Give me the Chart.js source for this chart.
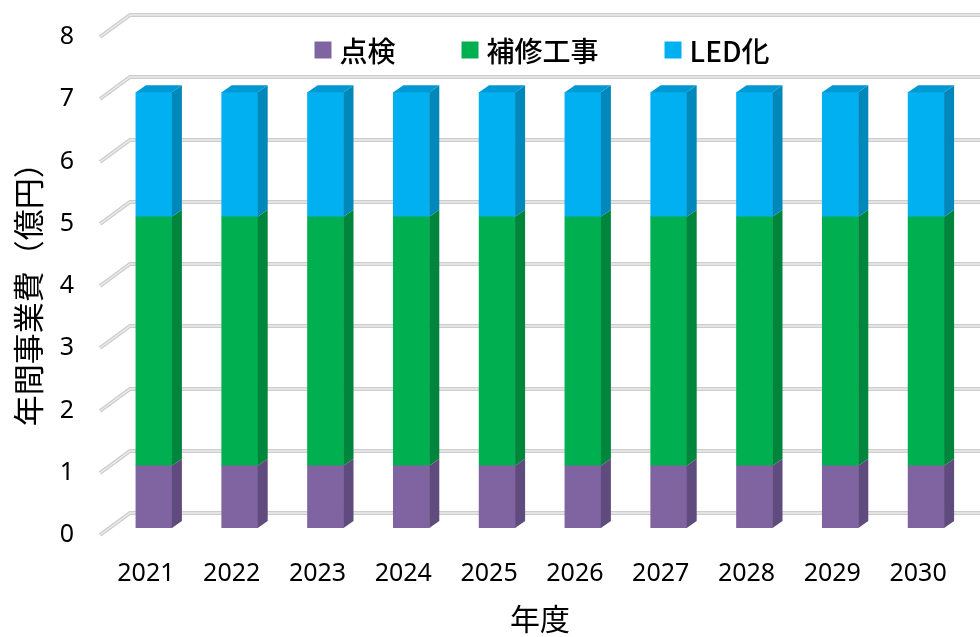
<!DOCTYPE html>
<html>
<head>
<meta charset="utf-8">
<script src="https://cdn.jsdelivr.net/npm/chart.js@4.4.1/dist/chart.umd.min.js"></script>
<style>
    html, body { margin: 0; padding: 0; background: #fff; }
    canvas { display: block; }
</style>
</head>
<body>
<canvas id="chart" width="980" height="637"></canvas>
<script>
    const years = ['2021', '2022', '2023', '2024', '2025', '2026', '2027', '2028', '2029', '2030'];
    const inspection = [1, 1, 1, 1, 1, 1, 1, 1, 1, 1];   // 点検
    const repairWork = [4, 4, 4, 4, 4, 4, 4, 4, 4, 4];   // 補修工事
    const ledWork = [2, 2, 2, 2, 2, 2, 2, 2, 2, 2];      // LED化
    const seriesNames = ['点検', '補修工事', 'LED化'];

    const jpFont = "'Noto Sans CJK JP', 'Noto Sans', sans-serif";
    const numFont = "'Noto Sans', 'Noto Sans CJK JP', sans-serif";

    // depth of the fake 3D boxes
    const DX = 10, DY = -7;

    const wallPlugin = {
        id: 'wall',
        beforeDatasetsDraw(chart) {
            const { ctx, chartArea, scales: { y } } = chart;
            ctx.save();
            for (let v = 0; v <= 8; v++) {
                const yb = Math.round(y.getPixelForValue(v)) - 15;
                const path = () => {
                    ctx.beginPath();
                    ctx.moveTo(chartArea.left - 11, yb + 22);
                    ctx.lineTo(chartArea.left + 19, yb);
                    ctx.lineTo(chart.width, yb);
                };
                ctx.lineWidth = 4;
                ctx.strokeStyle = '#cdcdcd';
                path();
                ctx.stroke();
                ctx.lineWidth = 1.5;
                ctx.strokeStyle = '#ebebeb';
                path();
                ctx.stroke();
            }
            ctx.restore();
        },
        afterDatasetsDraw(chart) {
            const { ctx } = chart;
            const last = chart.data.datasets.length - 1;
            ctx.save();
            chart.data.datasets.forEach((ds, i) => {
                chart.getDatasetMeta(i).data.forEach((bar) => {
                    const l = bar.x - bar.width / 2,
                          r = bar.x + bar.width / 2,
                          t = Math.min(bar.y, bar.base),
                          b = Math.max(bar.y, bar.base);
                    ctx.fillStyle = ds.sideColor;
                    ctx.beginPath();
                    ctx.moveTo(r, t);
                    ctx.lineTo(r + DX, t + DY);
                    ctx.lineTo(r + DX, b + DY);
                    ctx.lineTo(r, b);
                    ctx.closePath();
                    ctx.fill();
                    if (i === last) {
                        ctx.fillStyle = ds.topColor;
                        ctx.beginPath();
                        ctx.moveTo(l, t);
                        ctx.lineTo(r, t);
                        ctx.lineTo(r + DX, t + DY);
                        ctx.lineTo(l + DX, t + DY);
                        ctx.closePath();
                        ctx.fill();
                    }
                });
            });
            ctx.restore();
        },
    };

    const legendPlugin = {
        id: 'innerLegend',
        afterDraw(chart) {
            const { ctx } = chart;
            const box = 17, gap = 8, spacing = 66, cx = 542, cy = 50;
            ctx.save();
            ctx.font = `500 28px ${jpFont}`;
            const widths = chart.data.datasets.map((ds) => ctx.measureText(ds.label).width);
            const total = widths.reduce((s, w) => s + box + gap + w, 0) + spacing * (widths.length - 1);
            let x = cx - total / 2;
            ctx.textBaseline = 'middle';
            chart.data.datasets.forEach((ds, i) => {
                ctx.fillStyle = ds.backgroundColor;
                ctx.fillRect(x, cy - box / 2, box, box);
                ctx.fillStyle = '#000';
                ctx.fillText(ds.label, x + box + gap, cy + 1);
                x += box + gap + widths[i] + spacing;
            });
            ctx.restore();
        },
    };

    new Chart(document.getElementById('chart'), {
        type: 'bar',
        data: {
            labels: years,
            datasets: [
                { label: seriesNames[0], data: inspection, backgroundColor: '#8064a2', sideColor: '#5f4b7d', topColor: '#6e5690', barThickness: 36 },
                { label: seriesNames[1], data: repairWork, backgroundColor: '#00b050', sideColor: '#00853c', topColor: '#009a45', barThickness: 36 },
                { label: seriesNames[2], data: ledWork, backgroundColor: '#00b0f0', sideColor: '#0088bb', topColor: '#0098d2', barThickness: 36 },
            ],
        },
        options: {
            responsive: false,
            devicePixelRatio: 1,
            animation: false,
            layout: { padding: { top: 30, right: 11, left: 0, bottom: 0 } },
            plugins: {
                legend: { display: false },
                tooltip: { enabled: false },
            },
            scales: {
                x: {
                    stacked: true,
                    grid: { display: false },
                    border: { display: false },
                    ticks: {
                        color: '#000',
                        padding: 23,
                        labelOffset: -8,
                        font: { family: numFont, size: 25 },
                    },
                    title: {
                        display: true,
                        text: '年度',
                        color: '#000',
                        padding: 0,
                        font: { family: jpFont, size: 30 },
                    },
                    afterFit: (scale) => { scale.height = 109; },
                },
                y: {
                    stacked: true,
                    min: 0,
                    max: 8,
                    grid: { display: false },
                    border: { display: false },
                    ticks: {
                        stepSize: 1,
                        color: '#000',
                        padding: 29,
                        labelOffset: 7,
                        font: { family: numFont, size: 25 },
                    },
                    title: {
                        display: true,
                        // trailing ideographic space nudges the rotated title down like the original
                        text: '年間事業費（億円）　',
                        color: '#000',
                        padding: { top: 10, bottom: 0 },
                        font: { family: jpFont, size: 31 },
                    },
                    afterFit: (scale) => {
                        scale.width = 111;
                        scale.paddingTop = 0;
                        scale.paddingBottom = 0;
                    },
                },
            },
        },
        plugins: [wallPlugin, legendPlugin],
    });
</script>
</body>
</html>
